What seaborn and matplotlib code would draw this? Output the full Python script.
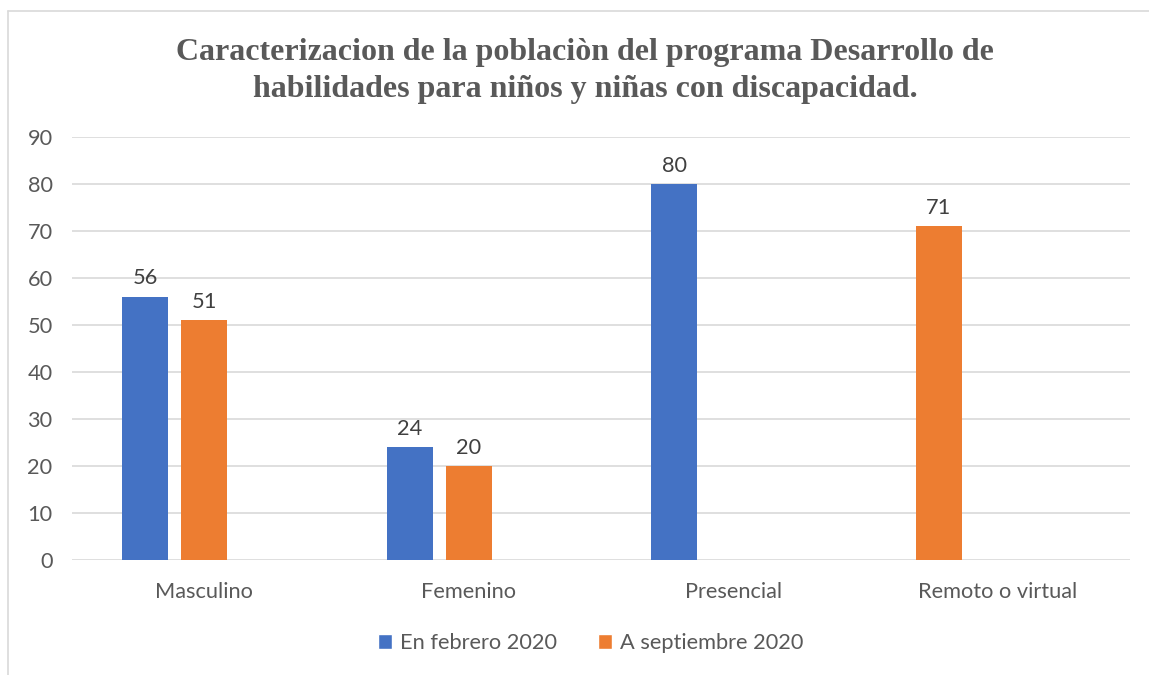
import seaborn as sns
import matplotlib.pyplot as plt
import pandas as pd
from matplotlib.lines import Line2D
from matplotlib.patches import Patch

# data
categorias = ["Masculino", "Femenino", "Presencial", "Remoto o virtual"]
febrero = [56, 24, 80, None]
septiembre = [51, 20, None, 71]
series = ["En febrero 2020", "A septiembre 2020"]
colores = {"En febrero 2020": "#4472C4", "A septiembre 2020": "#ED7D31"}

# build long table; within a category the present values take slots left to right
rows = []
for i, cat in enumerate(categorias):
    slot = 0
    for serie, vals in zip(series, [febrero, septiembre]):
        if vals[i] is not None:
            rows.append({"categoria": cat, "serie": serie, "valor": vals[i], "slot": f"s{slot}"})
            slot += 1
df = pd.DataFrame(rows)

sns.set_style("white")
plt.rcParams['font.family'] = ['Lato', 'DejaVu Sans']
fs = 15.7

fig = plt.figure(figsize=(11.49, 6.75), dpi=100)
ax = fig.add_axes([72 / 1149, 1 - 560 / 675, (1130 - 72) / 1149, (560 - 137) / 675])

for serie in series:
    sub = df[df["serie"] == serie]
    sns.barplot(data=sub, x="categoria", y="valor", hue="slot",
                hue_order=["s0", "s1", "s2"], order=categorias,
                palette={"s0": colores[serie], "s1": colores[serie], "s2": colores[serie]},
                width=0.669, gap=0.22, dodge=True, errorbar=None, legend=False,
                saturation=1, linewidth=0, ax=ax)

for cont in ax.containers:
    ax.bar_label(cont, fmt="%d", padding=6, fontsize=fs, color="#404040")

ax.set_ylim(0, 90)
ax.set_yticks(range(0, 91, 10))
ax.set_xlim(-0.5, 3.5)
ax.grid(axis="y", color="#d9d9d9", linewidth=1.2)
ax.set_axisbelow(True)
sns.despine(ax=ax, left=True, bottom=True)
ax.set_xlabel("")
ax.set_ylabel("")
ax.tick_params(axis="both", length=0, labelsize=fs, labelcolor="#595959")
ax.tick_params(axis="y", pad=14)
ax.tick_params(axis="x", pad=16)

fig.text(0.509, 1 - 71 / 675,
         "Caracterizacion de la poblaciòn del programa Desarrollo de\nhabilidades para niños y niñas con discapacidad.",
         ha="center", va="center", fontsize=23, fontweight="bold",
         family="Liberation Serif", color="#595959", linespacing=1.38)

handles = [Patch(facecolor=colores[s], label=s) for s in series]
fig.legend(handles=handles, loc="center", bbox_to_anchor=(0.514, 1 - 643 / 675),
           ncol=2, frameon=False, fontsize=fs, labelcolor="#595959",
           handlelength=0.65, handleheight=0.65, handletextpad=0.35, columnspacing=1.9)

# chart border (left and top edges visible)
fig.add_artist(Line2D([8 / 1149, 8 / 1149], [0, 1 - 11 / 675], transform=fig.transFigure,
                      color="#d9d9d9", linewidth=1.2))
fig.add_artist(Line2D([8 / 1149, 1], [1 - 11 / 675, 1 - 11 / 675], transform=fig.transFigure,
                      color="#d9d9d9", linewidth=1.2))

fig.savefig("out.png", dpi=100)
